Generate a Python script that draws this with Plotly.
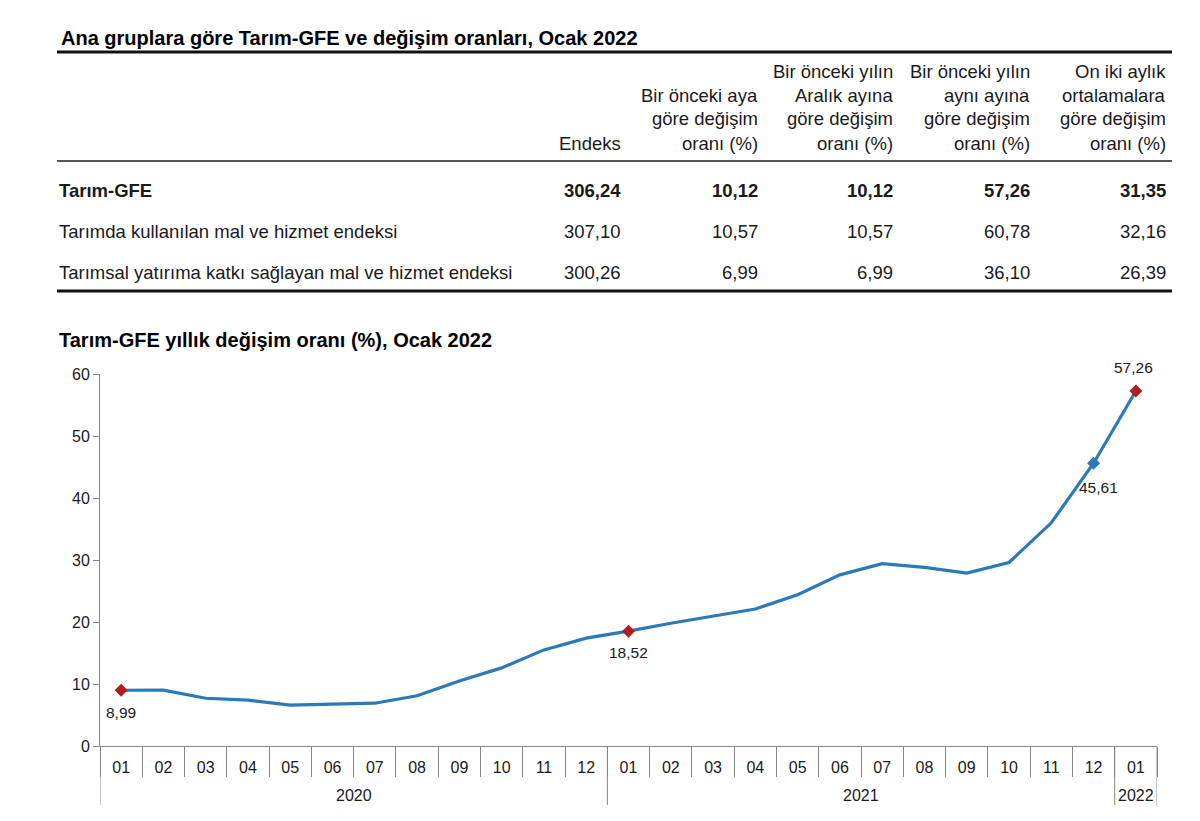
import plotly.graph_objects as go

# ---------------- data ----------------
table_title = "Ana gruplara göre Tarım-GFE ve değişim oranları, Ocak 2022"
col_headers = [
    ["Endeks"],
    ["Bir önceki aya", "göre değişim", "oranı (%)"],
    ["Bir önceki yılın", "Aralık ayına", "göre değişim", "oranı (%)"],
    ["Bir önceki yılın", "aynı ayına", "göre değişim", "oranı (%)"],
    ["On iki aylık", "ortalamalara", "göre değişim", "oranı (%)"],
]
row_labels = [
    "Tarım-GFE",
    "Tarımda kullanılan mal ve hizmet endeksi",
    "Tarımsal yatırıma katkı sağlayan mal ve hizmet endeksi",
]
row_values = [
    ["306,24", "10,12", "10,12", "57,26", "31,35"],
    ["307,10", "10,57", "10,57", "60,78", "32,16"],
    ["300,26", "6,99", "6,99", "36,10", "26,39"],
]

chart_title = "Tarım-GFE yıllık değişim oranı (%), Ocak 2022"
years = ["2020"] * 12 + ["2021"] * 12 + ["2022"]
months = ["01", "02", "03", "04", "05", "06", "07", "08", "09", "10", "11", "12"] * 2 + ["01"]
annual_change = [8.99, 9.0, 7.7, 7.4, 6.6, 6.8, 6.9, 8.1, 10.5, 12.6, 15.5, 17.4,
                 18.52, 19.8, 21.0, 22.1, 24.4, 27.6, 29.4, 28.8, 27.9, 29.6, 36.0, 45.61,
                 57.26]
label_idx = [0, 12, 23, 24]
label_text = ["8,99", "18,52", "45,61", "57,26"]

# ---------------- layout helpers ----------------
OFF = 8                      # page body margin
W, H = 1184, 805
L, R, T, B = 92, 35, 366, 67
PW, PH = W - L - R, H - T - B


def px(x):
    return (x - OFF - L) / PW


def py(y):
    return (H - B - (y - OFF)) / PH


FONT = "Liberation Sans, Arial, sans-serif"
TXT = "#1a1a1a"
AX = "#868686"

idx = list(range(len(months)))

fig = go.Figure()

fig.add_trace(go.Scatter(
    x=idx, y=annual_change, mode="lines",
    line=dict(color="#2C79BA", width=3.2), hoverinfo="y", showlegend=False,
))

fig.add_trace(go.Scatter(
    x=[idx[i] for i in label_idx],
    y=[annual_change[i] for i in label_idx],
    mode="markers", cliponaxis=False,
    marker=dict(symbol="diamond", size=10,
                color=["#B01E1E", "#B01E1E", "#2C79BA", "#B01E1E"]),
    showlegend=False, hoverinfo="y",
))

anns = []
shapes = []

# data labels
lab_shift = [(0, -22), (0, -21), (5, -24), (-2, 23)]
for k, i in enumerate(label_idx):
    anns.append(dict(x=idx[i], y=annual_change[i], xref="x", yref="y", text=label_text[k],
                     showarrow=False, xshift=lab_shift[k][0], yshift=lab_shift[k][1],
                     font=dict(family=FONT, size=15.5, color=TXT)))

# year group dividers and labels
bounds = [-0.5]
for i in range(1, len(years)):
    if years[i] != years[i - 1]:
        bounds.append(i - 0.5)
bounds.append(len(years) - 0.5)
for b in bounds:
    shapes.append(dict(type="line", xref="x", yref="paper", x0=b, x1=b, y0=0, y1=py(805),
                       line=dict(color=AX, width=1)))
for g in range(len(bounds) - 1):
    anns.append(dict(x=(bounds[g] + bounds[g + 1]) / 2, y=py(795), xref="x", yref="paper",
                     text=years[int(bounds[g] + 0.5)], showarrow=False, yanchor="middle",
                     font=dict(family=FONT, size=16, color=TXT)))

# table title
anns.append(dict(x=px(59), y=py(38), xref="paper", yref="paper", text="<b>" + table_title + "</b>",
                 showarrow=False, xanchor="left", yanchor="middle",
                 font=dict(family=FONT, size=20, color="#000")))
shapes.append(dict(type="line", xref="paper", yref="paper", x0=px(57), x1=px(1172),
                   y0=py(52), y1=py(52), line=dict(color="#111", width=3)))

col_right = [623, 760, 895, 1032, 1168]
line_y = [71, 95, 119, 143]
for ci, hdr in enumerate(col_headers):
    start = len(line_y) - len(hdr)
    for li, t in enumerate(hdr):
        anns.append(dict(x=px(col_right[ci]), y=py(line_y[start + li]), xref="paper", yref="paper",
                         text=t, showarrow=False, xanchor="right", yanchor="middle",
                         font=dict(family=FONT, size=18.5, color=TXT)))
shapes.append(dict(type="line", xref="paper", yref="paper", x0=px(57), x1=px(1172),
                   y0=py(161), y1=py(161), line=dict(color="#555", width=2)))

row_y = [190, 232, 272]
for ri, lab in enumerate(row_labels):
    bold = ri == 0
    fmt = (lambda s: "<b>" + s + "</b>") if bold else (lambda s: s)
    anns.append(dict(x=px(57), y=py(row_y[ri]), xref="paper", yref="paper", text=fmt(lab),
                     showarrow=False, xanchor="left", yanchor="middle",
                     font=dict(family=FONT, size=18.5, color=TXT)))
    for ci, v in enumerate(row_values[ri]):
        anns.append(dict(x=px(col_right[ci]), y=py(row_y[ri]), xref="paper", yref="paper",
                         text=fmt(v), showarrow=False, xanchor="right", yanchor="middle",
                         font=dict(family=FONT, size=18.5, color=TXT)))
shapes.append(dict(type="line", xref="paper", yref="paper", x0=px(57), x1=px(1172),
                   y0=py(291), y1=py(291), line=dict(color="#111", width=3)))

# chart title
anns.append(dict(x=px(57), y=py(340), xref="paper", yref="paper", text="<b>" + chart_title + "</b>",
                 showarrow=False, xanchor="left", yanchor="middle",
                 font=dict(family=FONT, size=20, color="#000")))

fig.update_layout(
    width=W, height=H,
    margin=dict(l=L, r=R, t=T, b=B, autoexpand=False),
    paper_bgcolor="white", plot_bgcolor="white",
    annotations=anns, shapes=shapes,
    font=dict(family=FONT, size=15, color=TXT),
    xaxis=dict(range=[-0.5, len(months) - 0.5], tickmode="array", tickvals=idx, ticktext=months,
               ticks="", ticklabelstandoff=7, showline=True, linecolor=AX, linewidth=1,
               showgrid=False, zeroline=False,
               minor=dict(tickmode="array", tickvals=[i - 0.5 for i in idx] + [len(months) - 0.5],
                          ticks="outside", ticklen=30, tickcolor=AX, tickwidth=1, showgrid=False),
               tickfont=dict(family=FONT, size=16, color=TXT)),
    yaxis=dict(range=[0, 60], dtick=10, showline=True, linecolor=AX, linewidth=1,
               ticks="outside", ticklen=6, tickcolor=AX, showgrid=False, zeroline=False,
               tickfont=dict(family=FONT, size=16, color=TXT)),
)

fig.write_html("out.html")
